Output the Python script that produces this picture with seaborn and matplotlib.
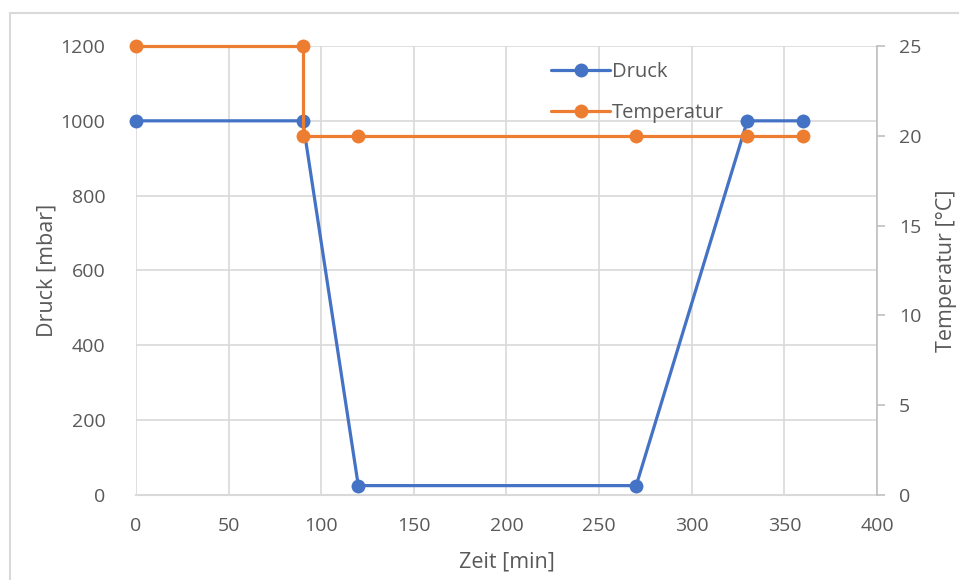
import matplotlib
matplotlib.use("Agg")
import matplotlib.pyplot as plt
import seaborn as sns
import pandas as pd
from matplotlib.patches import Rectangle

# Process data
zeit_druck = [0, 90, 120, 270, 330, 360]
druck = [1000, 1000, 25, 25, 1000, 1000]
zeit_temp = [0, 90, 90, 120, 270, 330, 360]
temperatur = [25, 25, 20, 20, 20, 20, 20]

sns.set_theme(style="white")
plt.rcParams["font.family"] = ["Open Sans", "DejaVu Sans"]

BLUE = "#4472C4"
ORANGE = "#ED7D31"
GRAY_TXT = "#595959"
GRID = "#D9D9D9"

fig = plt.figure(figsize=(9.59, 5.8), dpi=100)
ax = fig.add_axes([0.1418, 0.1466, 0.9145 - 0.1418, 0.9207 - 0.1466])
ax2 = ax.twinx()

df_p = pd.DataFrame({"Zeit": zeit_druck, "Druck": druck})
df_t = pd.DataFrame({"Zeit": zeit_temp, "Temperatur": temperatur})

sns.lineplot(data=df_p, x="Zeit", y="Druck", ax=ax, color=BLUE, lw=2.3,
             marker="o", markersize=10, markeredgewidth=0, estimator=None,
             sort=False, label="Druck", legend=False, zorder=3, clip_on=False)
sns.lineplot(data=df_t, x="Zeit", y="Temperatur", ax=ax2, color=ORANGE, lw=2.3,
             marker="o", markersize=10, markeredgewidth=0, estimator=None,
             sort=False, label="Temperatur", legend=False, zorder=3, clip_on=False)

ax.set_xlim(0, 400)
ax.set_ylim(0, 1200)
ax2.set_ylim(0, 25)
ax.set_xticks(range(0, 401, 50))
ax.set_yticks(range(0, 1201, 200))
ax2.set_yticks(range(0, 26, 5))

ax.grid(True, color=GRID, lw=1.2)
ax.set_axisbelow(True)
for sp in ["top", "left", "right"]:
    ax.spines[sp].set_visible(False)
    ax2.spines[sp].set_visible(False)
ax.spines["bottom"].set_color(GRID)
ax.spines["bottom"].set_linewidth(1.5)
ax2.spines["bottom"].set_visible(False)
ax2.spines["right"].set_visible(True)
ax2.spines["right"].set_color("#BFBFBF")
ax2.spines["right"].set_linewidth(1.2)

ax.tick_params(axis="both", length=0, labelsize=14, labelcolor=GRAY_TXT)
ax.tick_params(axis="x", pad=16)
ax.tick_params(axis="y", pad=22)
ax2.tick_params(axis="y", length=6, width=1.2, color="#BFBFBF", direction="out",
                labelsize=14, labelcolor=GRAY_TXT, pad=10)

ax.set_xlabel("Zeit [min]", fontsize=15.5, color=GRAY_TXT, labelpad=12)
ax.set_ylabel("Druck [mbar]", fontsize=15.5, color=GRAY_TXT, labelpad=2)
ax2.set_ylabel("Temperatur [°C]", fontsize=15.5, color=GRAY_TXT, labelpad=10)

handles = ax.get_lines()[:1] + ax2.get_lines()[:1]
leg = fig.legend(handles, ["Druck", "Temperatur"], loc="upper left",
                 bbox_to_anchor=(0.556, 0.924), frameon=False, fontsize=14.5,
                 labelspacing=1.05, handlelength=2.9, handletextpad=0.1)
for t in leg.get_texts():
    t.set_color(GRAY_TXT)

fig.patches.append(Rectangle((10 / 959, -0.1), 1.2, 1 - 13 / 580 + 0.1,
                             transform=fig.transFigure, fill=False,
                             edgecolor="#D9D9D9", lw=1.5, zorder=0))

fig.savefig("out.png", dpi=100)
